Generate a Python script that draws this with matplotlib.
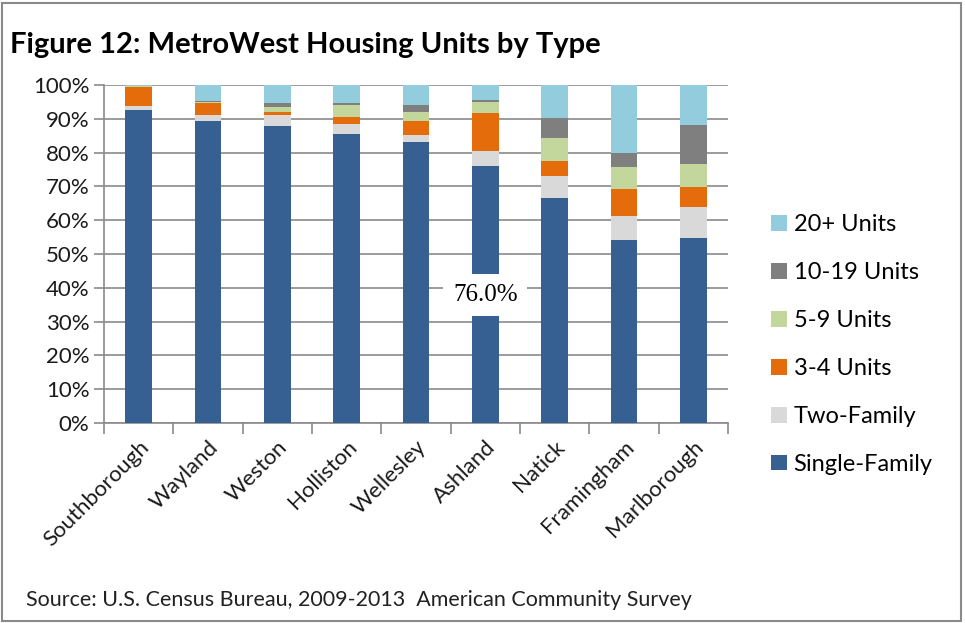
import matplotlib
matplotlib.use("Agg")
import matplotlib.pyplot as plt
from matplotlib.patches import Rectangle
import numpy as np

plt.rcParams['font.family'] = ['Lato', 'DejaVu Sans']

towns = ['Southborough', 'Wayland', 'Weston', 'Holliston', 'Wellesley',
         'Ashland', 'Natick', 'Framingham', 'Marlborough']

# shares in percent, bottom to top
single_family = [92.6, 89.3, 87.9, 85.5, 83.2, 76.0, 66.6, 54.1, 54.6]
two_family = [1.3, 1.8, 3.2, 2.9, 2.0, 4.5, 6.4, 7.1, 9.2]
units_3_4 = [5.4, 3.7, 1.0, 2.2, 4.2, 11.3, 4.4, 7.9, 6.1]
units_5_9 = [0.3, 0.3, 1.5, 3.5, 2.7, 3.2, 6.8, 6.5, 6.6]
units_10_19 = [0.2, 0.2, 1.0, 0.5, 2.0, 0.5, 5.9, 4.2, 11.8]
units_20_plus = [0.2, 4.7, 5.4, 5.4, 5.9, 4.5, 9.9, 20.2, 11.7]

series = [
    ('Single-Family', single_family, '#376092'),
    ('Two-Family', two_family, '#D9D9D9'),
    ('3-4 Units', units_3_4, '#E46C0A'),
    ('5-9 Units', units_5_9, '#C3D69B'),
    ('10-19 Units', units_10_19, '#7F7F7F'),
    ('20+ Units', units_20_plus, '#93CDDD'),
]

fig = plt.figure(figsize=(9.65, 6.23), dpi=100)
ax = fig.add_axes([104 / 965, 1 - 423 / 623, 624 / 965, 338 / 623])

x = np.arange(len(towns))
bottom = np.zeros(len(towns))
handles = []
for name, vals, color in series:
    vals = np.array(vals)
    b = ax.bar(x, vals / 100, 0.38, bottom=bottom / 100, color=color,
               label=name, zorder=3)
    handles.append(b)
    bottom += vals

ax.set_xlim(-0.5, len(towns) - 0.5)
ax.set_ylim(0, 1)
ax.set_yticks(np.arange(0, 1.01, 0.1))
ax.set_yticklabels([f'{int(round(v * 100))}%' for v in np.arange(0, 1.01, 0.1)],
                   fontsize=16, color='#1a1a1a')
ax.yaxis.grid(True, color='#8a8a8a', linewidth=1.2, zorder=0)
ax.tick_params(axis='y', length=7, color='#8a8a8a', direction='out', width=1.2)

ax.set_xticks(x)
ax.set_xticklabels(towns, rotation=45, ha='right', rotation_mode='anchor',
                   fontsize=16, color='#1a1a1a')
ax.tick_params(axis='x', length=0, pad=10)
ax.set_xticks(np.arange(-0.5, len(towns), 1), minor=True)
ax.tick_params(axis='x', which='minor', length=8, color='#8a8a8a', width=1.2)

for side in ['top', 'right']:
    ax.spines[side].set_visible(False)
for side in ['left', 'bottom']:
    ax.spines[side].set_color('#8a8a8a')
    ax.spines[side].set_linewidth(1.2)

# data label on Ashland single-family
idx = towns.index('Ashland')
ax.text(x[idx], 0.379, f'{single_family[idx]:.1f}%',
        ha='center', va='center', fontsize=18, family='Liberation Serif',
        bbox=dict(facecolor='white', edgecolor='none', pad=7), zorder=5)

leg = fig.legend(handles[::-1], [s[0] for s in series][::-1],
                 loc='upper left', bbox_to_anchor=(750 / 965, 1 - 193 / 623),
                 frameon=False, fontsize=17, handlelength=0.65, handleheight=0.65,
                 handletextpad=0.3, labelspacing=1.14)

fig.text(10 / 965, 1 - 45 / 623, 'Figure 12: MetroWest Housing Units by Type',
         fontsize=21, fontweight='bold', va='center', ha='left')
fig.text(26 / 965, 1 - 600 / 623,
         'Source: U.S. Census Bureau, 2009-2013  American Community Survey',
         fontsize=15.5, va='center', ha='left', color='#222222')

fig.patches.append(Rectangle((0.002, 0.003), 0.994, 0.992, transform=fig.transFigure,
                             fill=False, edgecolor='#8a8a8a', linewidth=1.5))

fig.savefig('out.png', dpi=100)
